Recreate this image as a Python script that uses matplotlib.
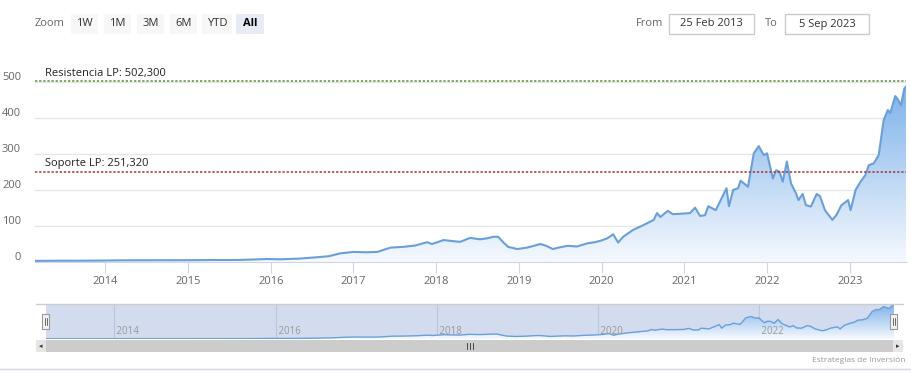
import numpy as np
import matplotlib.pyplot as plt
from matplotlib.colors import LinearSegmentedColormap
from matplotlib.patches import Rectangle
from matplotlib.transforms import ScaledTranslation

plt.rcParams['font.family'] = ['Open Sans', 'DejaVu Sans']

# decimal year / close price
years = [2013.15, 2013.4, 2013.7, 2013.95, 2014.2, 2014.5, 2014.8, 2015.0, 2015.3, 2015.6, 2015.8, 2015.95,
         2016.12, 2016.35, 2016.55, 2016.7, 2016.84,
         2017.0, 2017.15, 2017.29, 2017.38, 2017.45, 2017.6, 2017.75, 2017.89, 2017.95,
         2018.09, 2018.2, 2018.29, 2018.41, 2018.53, 2018.62, 2018.69, 2018.75, 2018.81, 2018.87, 2018.98,
         2019.1, 2019.26, 2019.33, 2019.41, 2019.5, 2019.59, 2019.7, 2019.83, 2019.92,
         2020.0, 2020.07, 2020.14, 2020.2, 2020.26, 2020.38, 2020.51, 2020.63, 2020.67, 2020.71, 2020.8, 2020.86, 2020.95,
         2021.07, 2021.13, 2021.19, 2021.25, 2021.29, 2021.38, 2021.41, 2021.51, 2021.54, 2021.59, 2021.65, 2021.68,
         2021.77, 2021.84, 2021.9, 2021.96,
         2022.0, 2022.07, 2022.11, 2022.15, 2022.19, 2022.24, 2022.29, 2022.35, 2022.38, 2022.43, 2022.47, 2022.53,
         2022.6, 2022.64, 2022.7, 2022.79, 2022.84, 2022.9, 2022.98,
         2023.01, 2023.07, 2023.13, 2023.19, 2023.23, 2023.29, 2023.35, 2023.41, 2023.46, 2023.49, 2023.55,
         2023.58, 2023.62, 2023.66, 2023.68]
prices = [3.1, 3.5, 3.6, 4.0, 4.6, 4.8, 4.9, 5.0, 5.5, 5.6, 7.0, 8.2,
          7.5, 9.5, 13, 16, 24,
          28, 27, 28, 35, 40, 42, 46, 55, 50,
          61, 58, 56, 67, 63, 66, 70, 70, 55, 42, 36,
          40, 50, 45, 36, 41, 45, 43, 52, 55,
          60, 66, 77, 54, 70, 89, 103, 117, 136, 125, 142, 133, 134,
          136, 151, 128, 130, 155, 144, 158, 205, 155, 200, 205, 226,
          209, 302, 322, 297,
          302, 232, 255, 251, 223, 279, 218, 191, 172, 189, 158, 154,
          189, 183, 144, 117, 131, 158, 172,
          144, 200, 223, 242, 269, 274, 297, 394, 422, 414, 461,
          452, 436, 482, 487]

resistencia = 502.300
soporte = 251.320
y_ticks = [0, 100, 200, 300, 400, 500]
x_ticks = list(range(2014, 2024))
nav_ticks = [2014, 2016, 2018, 2020, 2022]
zoom_buttons = ['1W', '1M', '3M', '6M', 'YTD', 'All']
date_from = '25 Feb 2013'
date_to = '5 Sep 2023'

W, H = 912, 378
def box(x0, y0, x1, y1):
    return [x0 / W, 1 - y1 / H, (x1 - x0) / W, (y1 - y0) / H]

line_c = '#6a9fd8'
grad = LinearSegmentedColormap.from_list('g', ['#f6f9fe', '#7db2ea'])
x0, x1 = 2013.15, 2023.68

def area(ax, lw):
    poly = ax.fill_between(years, prices, 0, color='none', lw=0)
    im = ax.imshow(np.linspace(0, 1, 256).reshape(-1, 1), extent=[x0, x1, 0, max(prices)],
                   origin='lower', aspect='auto', cmap=grad, zorder=1)
    im.set_clip_path(poly.get_paths()[0], transform=ax.transData)
    ax.plot(years, prices, color=line_c, lw=lw, zorder=3)

fig = plt.figure(figsize=(W / 100, H / 100), dpi=100)

# main chart
ax = fig.add_axes(box(35, 68, 906, 262))
area(ax, 1.5)
ax.set_xlim(x0, x1)
ax.set_ylim(0, 539)
ax.set_yticks(y_ticks)
ax.set_yticklabels([str(v) for v in y_ticks])
ax.set_xticks(x_ticks)
ax.set_xticklabels([str(v) for v in x_ticks])
ax.grid(axis='y', color='#e6e6e6', lw=1)
ax.set_axisbelow(True)
for s in ['top', 'right', 'left']:
    ax.spines[s].set_visible(False)
ax.spines['bottom'].set_color('#ccd6eb')
ax.tick_params(axis='y', length=0, pad=10, labelsize=8, labelcolor='#666666')
ax.tick_params(axis='x', length=8, color='#ccd6eb', pad=2, labelsize=8, labelcolor='#666666')
for lab in ax.get_yticklabels():
    lab.set_transform(lab.get_transform() + ScaledTranslation(0, 4 / 72, fig.dpi_scale_trans))

ax.axhline(resistencia, color='#5b8f3c', lw=1.1, ls=(0, (1.5, 1.2)), zorder=4)
ax.axhline(soporte, color='#a8333a', lw=1.1, ls=(0, (1.5, 1.2)), zorder=4)
ax.annotate('Resistencia LP: 502,300', xy=(0.0115, resistencia), xycoords=('axes fraction', 'data'),
            xytext=(0, 1.5), textcoords='offset points', va='bottom', fontsize=8, color='#222222')
ax.annotate('Soporte LP: 251,320', xy=(0.0115, soporte), xycoords=('axes fraction', 'data'),
            xytext=(0, 1.5), textcoords='offset points', va='bottom', fontsize=8, color='#222222')

# navigator
nav = fig.add_axes(box(46, 304, 894, 339))
nav.set_facecolor('#d3dbee')
area(nav, 1.0)
nav.set_xlim(x0, x1)
nav.set_ylim(0, 500)
nav.set_yticks([])
nav.set_xticks(nav_ticks)
nav.set_xticklabels([])
nav.tick_params(length=0)
nav.grid(axis='x', color='#bcc7df', lw=0.8)
nav.set_axisbelow(True)
for s in nav.spines.values():
    s.set_visible(False)
for t in nav_ticks:
    nav.text(t, 30, f' {t}', fontsize=7, color='#999999', va='bottom', ha='left', zorder=5)

# overlay for UI bits, pixel coordinates
ui = fig.add_axes([0, 0, 1, 1])
ui.set_xlim(0, W)
ui.set_ylim(H, 0)
ui.axis('off')

ui.text(35, 24, 'Zoom', fontsize=8, color='#666666', va='center')
bx = [71, 104, 137, 170, 202, 236]
bw = [27, 27, 27, 27, 30, 28]
for lab, xl, w in zip(zoom_buttons, bx, bw):
    sel = lab == 'All'
    ui.add_patch(Rectangle((xl, 14), w, 20, color='#e6ebf5' if sel else '#f7f7f7', lw=0))
    ui.text(xl + w / 2, 24, lab, ha='center', va='center', fontsize=8,
            color='#000000' if sel else '#333333', fontweight='bold' if sel else 'normal')

ui.text(636, 24, 'From', fontsize=8, color='#666666', va='center')
ui.add_patch(Rectangle((669, 14), 85, 20, fc='white', ec='#cccccc', lw=1))
ui.text(711, 24, date_from, ha='center', va='center', fontsize=8, color='#333333')
ui.text(765, 24, 'To', fontsize=8, color='#666666', va='center')
ui.add_patch(Rectangle((785, 14), 84, 20, fc='white', ec='#cccccc', lw=1))
ui.text(827, 24, date_to, ha='center', va='center', fontsize=8, color='#333333')

# navigator outline and handles
ui.plot([36, 903], [304, 304], color='#cccccc', lw=1)
for hx in [46, 894]:
    ui.add_patch(Rectangle((hx - 3.5, 314), 7, 15, fc='#f2f2f2', ec='#999999', lw=0.8, zorder=6))
    ui.plot([hx - 1, hx - 1], [318, 325], color='#333333', lw=0.5, zorder=7)
    ui.plot([hx + 1, hx + 1], [318, 325], color='#333333', lw=0.5, zorder=7)

# scrollbar
ui.add_patch(Rectangle((36, 340), 867, 12, color='#f2f2f2', lw=0))
ui.add_patch(Rectangle((46, 340), 848, 12, color='#cccccc', lw=0))
ui.add_patch(Rectangle((36, 340), 10, 12, color='#e6e6e6', lw=0))
ui.add_patch(Rectangle((893, 340), 10, 12, color='#e6e6e6', lw=0))
ui.text(41, 346.5, '◂', ha='center', va='center', fontsize=5, color='#333333')
ui.text(898, 346.5, '▸', ha='center', va='center', fontsize=5, color='#333333')
for gx in [467, 470, 473]:
    ui.plot([gx, gx], [343, 349], color='#333333', lw=0.6)

ui.text(905, 360, 'Estrategias de Inversión', ha='right', va='center', fontsize=6, color='#999999')
ui.plot([0, W], [369, 369], color='#d6d6e4', lw=1)

fig.savefig('out.png', dpi=100)
